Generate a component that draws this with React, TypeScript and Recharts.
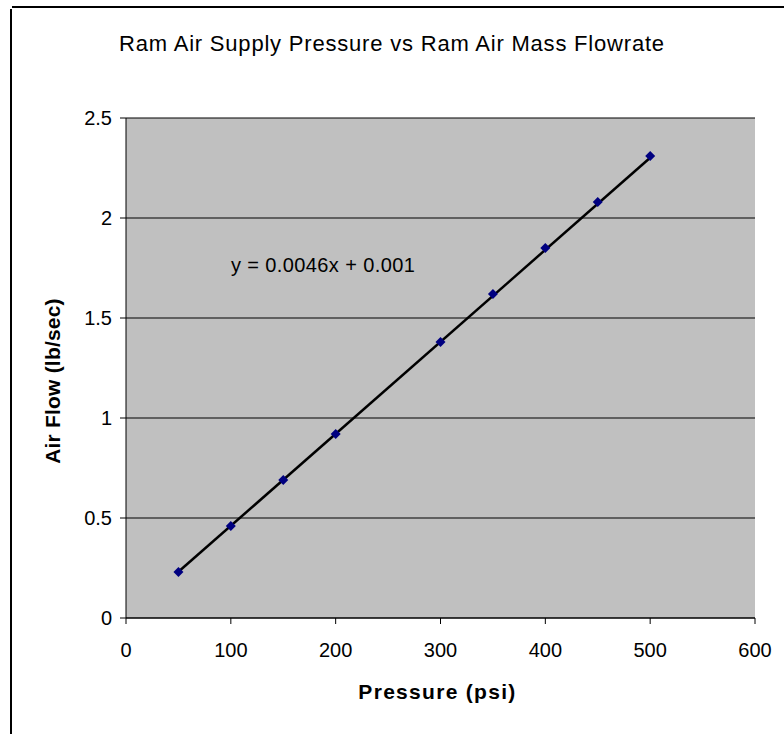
import React from "react";
import {
  ComposedChart,
  Line,
  Scatter,
  XAxis,
  YAxis,
  CartesianGrid,
  ReferenceDot,
  Label,
} from "recharts";

const pressure = [50, 100, 150, 200, 300, 350, 400, 450, 500];
const airFlow = [0.23, 0.46, 0.69, 0.92, 1.38, 1.62, 1.85, 2.08, 2.31];
const trendX = [50, 500];
const trendY = [0.231, 2.301];
const xTicks = [0, 100, 200, 300, 400, 500, 600];
const yTicks = [0, 0.5, 1, 1.5, 2, 2.5];
const title = "Ram Air Supply Pressure vs Ram Air Mass Flowrate";
const equation = "y = 0.0046x + 0.001";
const xTitle = "Pressure (psi)";
const yTitle = "Air Flow (lb/sec)";

const points = pressure.map((p, i) => ({ x: p, y: airFlow[i] }));
const trend = trendX.map((p, i) => ({ x: p, t: trendY[i] }));

const FONT = "'Liberation Sans', Arial, sans-serif";

const Diamond = (props: any) => {
  const { cx, cy } = props;
  if (cx == null || cy == null) return null;
  const s = 5;
  return (
    <path
      d={`M${cx},${cy - s}L${cx + s},${cy}L${cx},${cy + s}L${cx - s},${cy}Z`}
      fill="#000080"
    />
  );
};

export default function App() {
  return (
    <div style={{ position: "absolute", left: 0, top: 0, width: 784, height: 734, background: "#fff" }}>
      <div style={{ position: "absolute", left: 12, top: 6, width: 772, height: 2, background: "#000" }} />
      <div style={{ position: "absolute", left: 10, top: 9, width: 2, height: 725, background: "#000" }} />
      <div
        style={{
          position: "absolute",
          left: 0,
          width: 784,
          top: 31,
          textAlign: "center",
          fontFamily: FONT,
          fontSize: 22,
          letterSpacing: 0.8,
          color: "#000",
        }}
      >
        {title}
      </div>
      <div style={{ position: "absolute", left: 0, top: 0 }}>
        <ComposedChart
          width={784}
          height={734}
          margin={{ top: 118, right: 29, bottom: 56, left: 0 }}
        >
          <CartesianGrid
            horizontal={true}
            vertical={false}
            stroke="#000"
            strokeWidth={1.2}
            fill="#c0c0c0"
            fillOpacity={1}
          />
          <XAxis
            type="number"
            dataKey="x"
            domain={[0, 600]}
            ticks={xTicks}
            height={60}
            stroke="#000"
            tickSize={6}
            tick={{ fill: "#000", fontSize: 20, fontFamily: FONT }}
            tickMargin={19}
            allowDataOverflow
          >
            <Label
              value={xTitle}
              position="insideBottom"
              offset={-21}
              style={{ fontFamily: FONT, fontSize: 21, fontWeight: "bold", fill: "#000", letterSpacing: 1.3 }}
              dx={-3}
            />
          </XAxis>
          <YAxis
            type="number"
            domain={[0, 2.5]}
            ticks={yTicks}
            width={126}
            stroke="#000"
            tickSize={6}
            tickMargin={8}
            tick={{ fill: "#000", fontSize: 20, fontFamily: FONT }}
            allowDataOverflow
          />
          <Line
            data={trend}
            dataKey="t"
            stroke="#000"
            strokeWidth={2.5}
            dot={false}
            activeDot={false}
            isAnimationActive={false}
            type="linear"
          />
          <Scatter
            data={points}
            dataKey="y"
            shape={<Diamond />}
            isAnimationActive={false}
          />
          <ReferenceDot x={188} y={1.765} r={0} fill="none" stroke="none">
            <Label
              value={equation}
              position="center"
              style={{ fontFamily: FONT, fontSize: 20, fill: "#000", letterSpacing: 0.4 }}
            />
          </ReferenceDot>
        </ComposedChart>
      </div>
      <svg style={{ position: "absolute", left: 0, top: 0 }} width={784} height={734} pointerEvents="none">
        <text
          x={0}
          y={0}
          transform="translate(52,381) rotate(-90)"
          textAnchor="middle"
          dominantBaseline="central"
          style={{ fontFamily: FONT, fontSize: 21, fontWeight: "bold", fill: "#000", letterSpacing: 0.2 }}
        >
          {yTitle}
        </text>
      </svg>
    </div>
  );
}
